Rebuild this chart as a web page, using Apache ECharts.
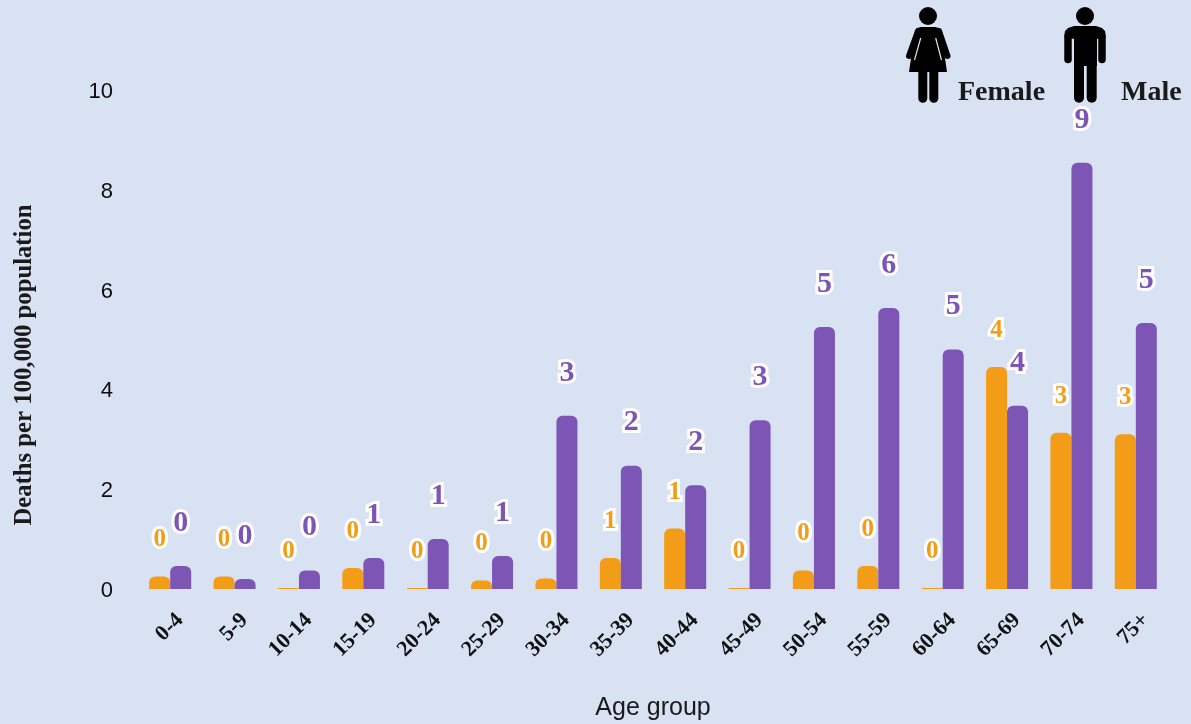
<!DOCTYPE html>
<html>
<head>
<meta charset="utf-8">
<style>html,body{margin:0;padding:0;background:#d9e2f3}#chart{width:1191px;height:724px}</style>
<script src="https://cdn.jsdelivr.net/npm/echarts@6/dist/echarts.min.js"></script>
</head>
<body>
<div id="chart"></div>
<script>
const ageGroups = ['0-4','5-9','10-14','15-19','20-24','25-29','30-34','35-39','40-44','45-49','50-54','55-59','60-64','65-69','70-74','75+'];
const femaleRates = [0.25,0.25,0.02,0.42,0.02,0.17,0.21,0.62,1.21,0.02,0.37,0.46,0.02,4.45,3.13,3.1];
const maleRates = [0.46,0.2,0.37,0.62,1.0,0.66,3.47,2.47,2.08,3.38,5.25,5.63,4.8,3.67,8.54,5.33];
const yTicks = {min:0,max:10,interval:2};
const SERIF = '"Liberation Serif", serif';
const SANS = '"Liberation Sans", sans-serif';
const ORANGE = '#f39c17', PURPLE = '#7d55b5', PAGE = '#d9e2f3';

function barSeries(name, data, color, fontSize, distance) {
  return {
    name, type:'bar', data, barWidth:21, barGap:0,
    itemStyle:{color, borderRadius:[6,6,0,0]},
    label:{
      show:true, position:'top', distance,
      formatter:p=>String(Math.round(p.value)),
      fontFamily:SERIF, fontWeight:'bold', fontSize, color,
      textBorderColor:'#ffffff', textBorderWidth:6
    }
  };
}

// Pictogram figures beside the legend words
const stroke = (x1,y1,x2,y2,w,color='#000',cap='round') =>
  ({type:'line', shape:{x1,y1,x2,y2}, style:{stroke:color, fill:'none', lineWidth:w, lineCap:cap}});
const solid = points => ({type:'polygon', shape:{points}, style:{fill:'#000'}});
const head = cx => ({type:'circle', shape:{cx,cy:16,r:9}, style:{fill:'#000'}});
const icons = [
  head(928),
  solid([[921,27],[935,27],[939,28],[941,31],[947,72],[909,72],[915,31],[917,28]]),
  stroke(918,31,909,56,6),
  stroke(939,31,947.5,56,6),
  stroke(920.7,38,914.5,60,1.2,PAGE,'butt'),
  stroke(935.7,38,941.5,60,1.2,PAGE,'butt'),
  stroke(922.8,70,922.8,98.2,9),
  stroke(933.8,70,933.8,98.2,9),
  head(1085),
  solid([[1074,26],[1096,26],[1102,28],[1105,31],[1106,37],[1097,39],[1097,66],[1074,66],[1074,39],[1064,37],[1065,31],[1068,28]]),
  stroke(1068,38,1068,59.5,7.5),
  stroke(1102,38,1102,59.5,7.5),
  stroke(1079,60,1079,97.7,10),
  stroke(1091.7,60,1091.7,97.7,10),
  {type:'text', left:958, top:79, style:{text:'Female', font:'bold 28px '+SERIF, fill:'#1a1a1a'}},
  {type:'text', left:1121, top:79, style:{text:'Male', font:'bold 28px '+SERIF, fill:'#1a1a1a'}}
];

const chart = echarts.init(document.getElementById('chart'), null, {renderer:'canvas'});
chart.setOption({
  animation:false,
  backgroundColor:PAGE,
  grid:{left:138,right:23,top:90,bottom:135,outerBoundsMode:'none'},
  xAxis:{
    type:'category', data:ageGroups,
    name:'Age group', nameLocation:'middle', nameGap:107,
    nameTextStyle:{fontFamily:SANS, fontSize:25, color:'#1a1a1a'},
    axisLine:{show:false}, axisTick:{show:false},
    axisLabel:{rotate:45, interval:0, margin:18, verticalAlign:'top', padding:[3,0,0,0], fontFamily:SERIF, fontWeight:'bold', fontSize:22, color:'#111'}
  },
  yAxis:{
    type:'value', min:yTicks.min, max:yTicks.max, interval:yTicks.interval,
    name:'Deaths per 100,000 population', nameLocation:'middle', nameGap:101,
    nameTextStyle:{fontFamily:SERIF, fontWeight:'bold', fontSize:24.7, color:'#1a1a1a', padding:[0,51,0,0]},
    axisLine:{show:false}, axisTick:{show:false}, splitLine:{show:false},
    axisLabel:{margin:25, verticalAlign:'top', lineHeight:4, fontFamily:SANS, fontSize:22, color:'#0d0d0d'}
  },
  series:[
    barSeries('Female', femaleRates, ORANGE, 25, 24),
    barSeries('Male', maleRates, PURPLE, 30, 28)
  ],
  graphic:{elements:icons}
});
</script>
</body>
</html>
